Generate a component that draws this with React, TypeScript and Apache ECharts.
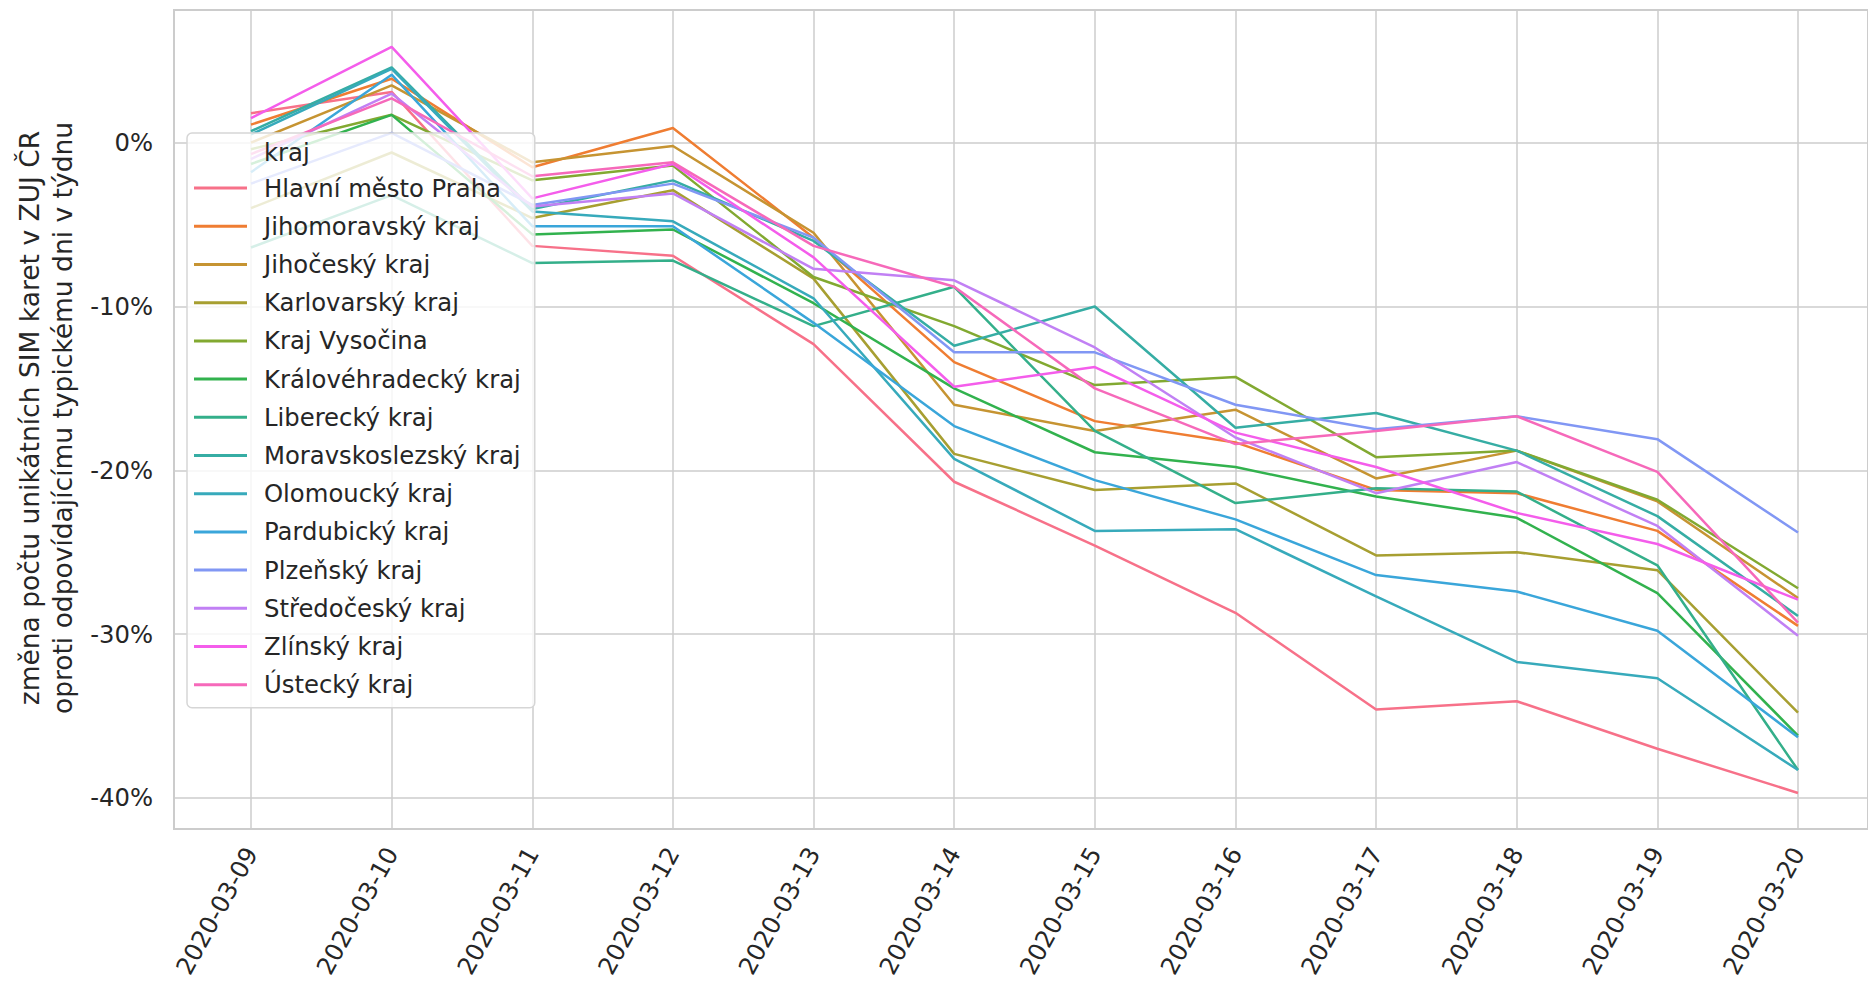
import React, { useEffect, useRef } from "react";
import * as echarts from "echarts";

const DATES = [
  "2020-03-09", "2020-03-10", "2020-03-11", "2020-03-12", "2020-03-13", "2020-03-14",
  "2020-03-15", "2020-03-16", "2020-03-17", "2020-03-18", "2020-03-19", "2020-03-20",
];

const KRAJE = [
  "Hlavní město Praha",
  "Jihomoravský kraj",
  "Jihočeský kraj",
  "Karlovarský kraj",
  "Kraj Vysočina",
  "Královéhradecký kraj",
  "Liberecký kraj",
  "Moravskoslezský kraj",
  "Olomoucký kraj",
  "Pardubický kraj",
  "Plzeňský kraj",
  "Středočeský kraj",
  "Zlínský kraj",
  "Ústecký kraj",
];

// change in %, one value per date
const PRAHA = [1.8, 3.1, -6.3, -6.9, -12.3, -20.7, -24.6, -28.7, -34.6, -34.1, -37.0, -39.7];
const JIHOMORAVSKY = [1.1, 3.9, -1.5, 0.9, -5.8, -13.4, -17.0, -18.3, -21.2, -21.4, -23.7, -29.5];
const JIHOCESKY = [0.0, 3.5, -1.2, -0.2, -5.5, -16.0, -17.6, -16.3, -20.5, -18.8, -21.9, -27.8];
const KARLOVARSKY = [-4.0, -0.6, -4.6, -2.9, -8.3, -19.0, -21.2, -20.8, -25.2, -25.0, -26.1, -34.8];
const VYSOCINA = [-0.4, 1.7, -2.3, -1.4, -8.2, -11.2, -14.8, -14.3, -19.2, -18.8, -21.8, -27.2];
const KRALOVEHRADECKY = [-1.3, 1.7, -5.6, -5.3, -9.8, -15.0, -18.9, -19.8, -21.6, -22.9, -27.5, -36.2];
const LIBERECKY = [-6.4, -3.2, -7.35, -7.2, -11.2, -8.8, -17.6, -22.0, -21.1, -21.3, -25.8, -38.3];
const MORAVSKOSLEZSKY = [0.7, 4.6, -4.05, -2.3, -6.0, -12.4, -10.0, -17.4, -16.5, -18.8, -22.8, -28.9];
const OLOMOUCKY = [0.5, 4.5, -4.2, -4.8, -9.5, -19.3, -23.7, -23.6, -27.7, -31.7, -32.7, -38.3];
const PARDUBICKY = [-1.8, 4.15, -5.1, -5.1, -11.0, -17.3, -20.6, -23.0, -26.4, -27.4, -29.8, -36.3];
const PLZENSKY = [-2.5, 0.6, -3.8, -2.5, -5.8, -12.8, -12.8, -16.0, -17.5, -16.7, -18.1, -23.8];
const STREDOCESKY = [-1.0, 3.0, -3.9, -3.1, -7.7, -8.4, -12.5, -18.0, -21.4, -19.5, -23.4, -30.1];
const ZLINSKY = [1.5, 5.85, -3.4, -1.3, -7.0, -14.9, -13.7, -17.7, -19.8, -22.6, -24.5, -27.9];
const USTECKY = [-0.7, 2.7, -2.05, -1.2, -6.3, -8.8, -15.0, -18.4, -17.6, -16.7, -20.1, -29.3];

const VALUES = [
  PRAHA, JIHOMORAVSKY, JIHOCESKY, KARLOVARSKY, VYSOCINA, KRALOVEHRADECKY, LIBERECKY,
  MORAVSKOSLEZSKY, OLOMOUCKY, PARDUBICKY, PLZENSKY, STREDOCESKY, ZLINSKY, USTECKY,
];

const Y_MIN = -41.9;
const Y_MAX = 8.1;

// seaborn husl palette (HSLuv -> sRGB)
const M = [
  [3.240969941904521, -1.537383177570093, -0.498610760293],
  [-0.96924363628087, 1.87596750150772, 0.041555057407175],
  [0.055630079696993, -0.20397695888897, 1.056971514242878],
];
const KAPPA = 903.2962962;
const EPS = 0.0088564516;
const REF_U = 0.19783000664283;
const REF_V = 0.46831999493879;

function maxChroma(L: number, H: number) {
  const hrad = (H / 360) * Math.PI * 2;
  const sub1 = Math.pow(L + 16, 3) / 1560896;
  const sub2 = sub1 > EPS ? sub1 : L / KAPPA;
  let res = Infinity;
  for (let c = 0; c < 3; c++) {
    const [m1, m2, m3] = M[c];
    for (let t = 0; t < 2; t++) {
      const top1 = (284517 * m1 - 94839 * m3) * sub2;
      const top2 = (838422 * m3 + 769860 * m2 + 731718 * m1) * L * sub2 - 769860 * t * L;
      const bottom = (632260 * m3 - 126452 * m2) * sub2 + 126452 * t;
      const slope = top1 / bottom;
      const intercept = top2 / bottom;
      const len = intercept / (Math.sin(hrad) - slope * Math.cos(hrad));
      if (len >= 0 && len < res) res = len;
    }
  }
  return res;
}

function husl(H: number, S: number, L: number) {
  const C = (maxChroma(L, H) / 100) * S;
  const hrad = (H / 360) * Math.PI * 2;
  const U = Math.cos(hrad) * C;
  const V = Math.sin(hrad) * C;
  const Y = L <= 8 ? L / KAPPA : Math.pow((L + 16) / 116, 3);
  const varU = U / (13 * L) + REF_U;
  const varV = V / (13 * L) + REF_V;
  const X = 0 - (9 * Y * varU) / ((varU - 4) * varV - varU * varV);
  const Z = (9 * Y - 15 * varV * Y - varV * X) / (3 * varV);
  const xyz = [X, Y, Z];
  const toHex = (row: number[]) => {
    let c = row[0] * xyz[0] + row[1] * xyz[1] + row[2] * xyz[2];
    c = c <= 0.0031308 ? 12.92 * c : 1.055 * Math.pow(c, 1 / 2.4) - 0.055;
    c = Math.min(1, Math.max(0, c));
    return Math.round(c * 255).toString(16).padStart(2, "0");
  };
  return "#" + M.map(toHex).join("");
}

const COLORS = KRAJE.map((_, i) => {
  let h = i / KRAJE.length + 0.01;
  h = h % 1;
  return husl(h * 359, 0.9 * 99, 0.65 * 99);
});

const FONT = "DejaVu Sans";
const TEXT = "#262626";
const GRIDC = "#cccccc";
const TICK_SIZE = 24.3;

export default function App() {
  const ref = useRef<HTMLDivElement>(null);
  useEffect(() => {
    document.body.style.margin = "0";
    if (!ref.current) return;
    const chart = echarts.init(ref.current, null, { renderer: "svg" });
    const option: any = {
      animation: false,
      backgroundColor: "#ffffff",
      grid: [
        { left: 174, top: 10, width: 1701, height: 819, show: true, borderColor: GRIDC, borderWidth: 2, backgroundColor: "transparent" },
        { left: 251, top: 10, width: 1547, height: 819 },
      ],
      xAxis: [
        { gridIndex: 0, type: "value", min: 0, max: 1, show: false },
        {
          gridIndex: 1,
          type: "category",
          data: DATES,
          boundaryGap: false,
          axisLine: { show: false },
          axisTick: { show: false },
          splitLine: { show: true, lineStyle: { color: GRIDC, width: 1.5 } },
          axisLabel: { rotate: 61, margin: 20, fontFamily: FONT, fontSize: TICK_SIZE, color: TEXT, interval: 0 },
        },
      ],
      yAxis: [
        {
          gridIndex: 0,
          type: "value",
          min: Y_MIN,
          max: Y_MAX,
          axisLine: { show: false },
          axisTick: { show: false },
          splitLine: { show: true, lineStyle: { color: GRIDC, width: 1.5 } },
          axisLabel: {
            formatter: "{value}%",
            showMinLabel: false,
            showMaxLabel: false,
            margin: 21,
            fontFamily: FONT,
            fontSize: TICK_SIZE,
            color: TEXT,
          },
        },
        { gridIndex: 1, type: "value", min: Y_MIN, max: Y_MAX, show: false, splitLine: { show: false } },
      ],
      legend: {
        orient: "vertical",
        left: 187,
        top: 133,
        padding: [41, 14, 9, 7],
        itemGap: 10,
        itemWidth: 53,
        itemHeight: 3,
        icon: "rect",
        backgroundColor: "rgba(255,255,255,0.8)",
        borderColor: "#d6d6d6",
        borderWidth: 1.5,
        borderRadius: 5,
        data: KRAJE,
        textStyle: { fontFamily: FONT, fontSize: TICK_SIZE, color: TEXT, lineHeight: 28.2, padding: [0, 0, 0, 12] },
      },
      graphic: [
        {
          type: "text",
          x: 264,
          y: 152,
          z: 100,
          style: { text: "kraj", font: `${TICK_SIZE}px "${FONT}"`, fill: TEXT, verticalAlign: "middle", align: "left" },
        },
        {
          type: "text",
          x: 46,
          y: 418,
          rotation: Math.PI / 2,
          z: 100,
          style: {
            text: "změna počtu unikátních SIM karet v ZUJ ČR\noproti odpovídajícímu typickému dni v týdnu",
            font: `26.5px "${FONT}"`,
            fill: TEXT,
            align: "center",
            verticalAlign: "middle",
            lineHeight: 33,
          },
        },
      ],
      series: KRAJE.map((name, i) => ({
        name,
        type: "line",
        xAxisIndex: 1,
        yAxisIndex: 1,
        data: VALUES[i],
        symbol: "none",
        showSymbol: false,
        lineStyle: { width: 2.5, color: COLORS[i] },
        itemStyle: { color: COLORS[i] },
        emphasis: { disabled: true },
      })),
    };
    chart.setOption(option);
    return () => chart.dispose();
  }, []);
  return <div ref={ref} style={{ width: 1868, height: 990 }} />;
}
